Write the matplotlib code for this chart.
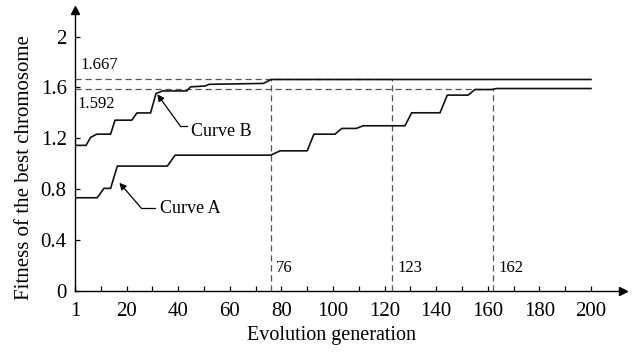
import numpy as np
from matplotlib import pyplot as plt

# -----------DATA-----------------------------------------
gen_a = [0, 8.6, 11.2, 13.8, 16.4, 35.8, 38.8, 75.9, 79.5, 90, 92.6, 100.8, 103.4,
         109, 111.7, 127.9, 130.5, 141.5, 144.3, 152.4, 155, 161.5, 163.4, 200]
fit_a = [0.733, 0.733, 0.807, 0.807, 0.982, 0.982, 1.068, 1.068, 1.102, 1.102, 1.233,
         1.233, 1.278, 1.278, 1.299, 1.299, 1.401, 1.401, 1.540, 1.540, 1.584, 1.584,
         1.592, 1.592]

gen_b = [0, 4.3, 6, 8.4, 13.8, 15.5, 22, 24, 29.3, 31.4, 34, 43.3, 44.8, 50.5, 52,
         73, 76, 200]
fit_b = [1.145, 1.145, 1.207, 1.233, 1.233, 1.343, 1.343, 1.400, 1.400, 1.553, 1.573,
         1.573, 1.605, 1.612, 1.625, 1.632, 1.663, 1.663]

best_b = 1.667
best_a = 1.592
mark_gens = [76, 123, 162]
mark_tops = [1.663, 1.667, 1.592]

xticks = list(range(0, 201, 10))
xticklabels = ["1" if t == 0 else (str(t) if t % 20 == 0 else "") for t in xticks]
yticks = [0, 0.4, 0.8, 1.2, 1.6, 2.0]
yticklabels = ["0", "0.4", "0.8", "1.2", "1.6", "2"]

# ----------------------PLOT---------------------------------------
plt.rcParams["font.family"] = ["Liberation Serif", "DejaVu Serif"]
fig = plt.figure(figsize=(6.33, 3.54), dpi=100)
ax = fig.add_axes([0.1185, 0.178, 0.866, 0.794])

dash = dict(color="#555555", lw=0.9, ls=(0, (5, 3)))
ax.plot([0, 123], [best_b, best_b], **dash)
ax.plot([0, 162], [best_a, best_a], **dash)
for g, top in zip(mark_gens, mark_tops):
    ax.plot([g, g], [0, top], **dash)

ax.plot(gen_a, fit_a, color="#111111", lw=1.2)
ax.plot(gen_b, fit_b, color="#111111", lw=1.2)

ax.set_xlim(0, 212.5)
ax.set_ylim(0, 2.21)
ax.set_xticks(xticks)
ax.set_xticklabels(xticklabels)
ax.set_yticks(yticks)
ax.set_yticklabels(yticklabels)
ax.tick_params(direction="in", length=3.5, width=0.9, labelsize=15)
ax.tick_params(axis="x", pad=8)
ax.tick_params(axis="y", pad=6)
ax.spines["top"].set_visible(False)
ax.spines["right"].set_visible(False)
ax.spines["left"].set_linewidth(1.0)
ax.spines["bottom"].set_linewidth(1.0)

# axis arrows
ax.plot(1, 0, ">", color="black", ms=6, transform=ax.get_yaxis_transform(), clip_on=False)
ax.plot(0, 1, "^", color="black", ms=6, transform=ax.get_xaxis_transform(), clip_on=False)

ax.set_xlabel("Evolution generation", fontsize=14.5, va="center")
ax.set_ylabel("Fitness of the best chromosome", fontsize=15, va="center")
ax.xaxis.set_label_coords(0.467, -0.158)
ax.yaxis.set_label_coords(-0.093, 0.44)

# value labels
ax.text(2, 1.775, "1.667", fontsize=12, va="center", ha="left")
ax.text(1, 1.474, "1.592", fontsize=12, va="center", ha="left")
for g in mark_gens:
    ax.text(g + 2, 0.18, str(g), fontsize=12, va="center", ha="left")


# curve annotations: text, short horizontal leader, slanted arrow to the curve
def label_curve(text, tip, bend, end, text_xy):
    ax.plot([end[0], bend[0]], [end[1], bend[1]], color="black", lw=0.9)
    ax.annotate("", xy=tip, xytext=bend,
                arrowprops=dict(arrowstyle="-|>", color="black", lw=0.9,
                                shrinkA=0, shrinkB=0, mutation_scale=10))
    ax.text(text_xy[0], text_xy[1], text, fontsize=13, va="center", ha="left")


label_curve("Curve B", (31.9, 1.547), (40.7, 1.30), (43.6, 1.30), (44.8, 1.255))
label_curve("Curve A", (17.2, 0.851), (25.6, 0.654), (31.0, 0.654), (32.8, 0.645))

fig.savefig("out.png", dpi=100)
